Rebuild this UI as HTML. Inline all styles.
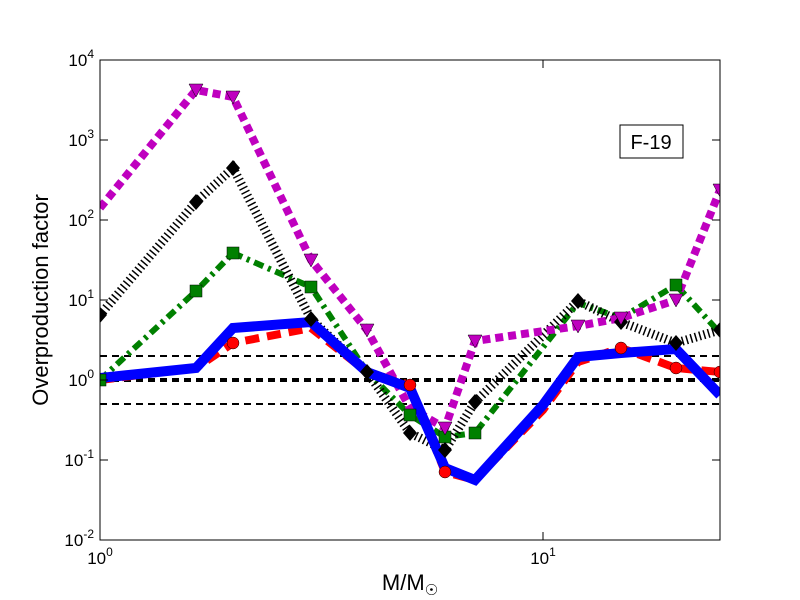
<!DOCTYPE html>
<html><head><meta charset="utf-8"><style>body{margin:0;background:#fff}svg{display:block}</style></head><body>
<svg width="800" height="600" xmlns="http://www.w3.org/2000/svg" font-family="Liberation Sans, DejaVu Sans, sans-serif">
<rect width="800" height="600" fill="#fff"/>
<defs><clipPath id="c"><rect x="100" y="60" width="620" height="480"/></clipPath></defs>
<g clip-path="url(#c)" fill="none">
<line x1="100" y1="356" x2="720" y2="356" stroke="#000" stroke-width="2" stroke-dasharray="7,5"/>
<line x1="100" y1="380" x2="720" y2="380" stroke="#000" stroke-width="4" stroke-dasharray="7,5"/>
<line x1="100" y1="404" x2="720" y2="404" stroke="#000" stroke-width="2" stroke-dasharray="7,5"/>
<polyline points="100,380 196,368 233,343 311,328 367,372 410,385 445,472 475,480 543,410 578,362 621,348 676,368 720,372" stroke="#f00" stroke-width="8" stroke-dasharray="14,8"/>
<polyline points="100,380 196,291 233,253 311,287 367,372 410,415 445,437 475,433 578,303 621,318 676,285 720,333" stroke="#008000" stroke-width="6" stroke-dasharray="10,5,3,5"/>
<polyline points="100,315 196,202 233,168 311,319 367,372 410,433 445,450 475,402 578,301 621,322 676,343 720,330" stroke="#000" stroke-width="9" stroke-dasharray="1.5,3"/>
<polyline points="100,208 196,90 233,97 311,260 367,330 410,408 445,428 475,341 578,326 621,318 676,300 720,190" stroke="#bf00bf" stroke-width="8" stroke-dasharray="8,5"/>
<polyline points="100,378 196,368 233,328 311,322 367,372 410,388 445,468 475,480 543,405 578,357 621,353 676,349 720,395" stroke="#00f" stroke-width="10"/>
<g fill="#f00" stroke="#000" stroke-width="0.5">
<circle cx="233" cy="343" r="6"/><circle cx="410" cy="385" r="6"/><circle cx="445" cy="472" r="6"/><circle cx="621" cy="348" r="6"/><circle cx="676" cy="368" r="6"/><circle cx="720" cy="372" r="6"/></g>
<g fill="#008000" stroke="#000" stroke-width="0.5">
<rect x="94" y="374" width="12" height="12"/><rect x="190" y="285" width="12" height="12"/><rect x="227" y="247" width="12" height="12"/><rect x="305" y="281" width="12" height="12"/><rect x="404" y="409" width="12" height="12"/><rect x="439" y="431" width="12" height="12"/><rect x="469" y="427" width="12" height="12"/><rect x="670" y="279" width="12" height="12"/></g>
<g fill="#000">
<polygon points="100,307 107,315 100,323 93,315"/><polygon points="196,194 203,202 196,210 189,202"/><polygon points="233,160 240,168 233,176 226,168"/><polygon points="311,311 318,319 311,327 304,319"/><polygon points="367,364 374,372 367,380 360,372"/><polygon points="410,425 417,433 410,441 403,433"/><polygon points="445,442 452,450 445,458 438,450"/><polygon points="475,394 482,402 475,410 468,402"/><polygon points="578,293 585,301 578,309 571,301"/><polygon points="621,314 628,322 621,330 614,322"/><polygon points="676,335 683,343 676,351 669,343"/><polygon points="720,322 727,330 720,338 713,330"/></g>
<g fill="#bf00bf" stroke="#000" stroke-width="0.5">
<polygon points="189,84 203,84 196,97"/><polygon points="226,91 240,91 233,104"/><polygon points="304,254 318,254 311,267"/><polygon points="360,324 374,324 367,337"/><polygon points="438,422 452,422 445,435"/><polygon points="468,335 482,335 475,348"/><polygon points="571,320 585,320 578,333"/><polygon points="614,312 628,312 621,325"/><polygon points="669,294 683,294 676,307"/><polygon points="713,184 727,184 720,197"/></g>
</g>
<rect x="100" y="60" width="620" height="480" fill="none" stroke="#000" stroke-width="1"/>
<g stroke="#000" stroke-width="1">
<line x1="100" y1="60" x2="108" y2="60"/><line x1="100" y1="140" x2="108" y2="140"/><line x1="100" y1="220" x2="108" y2="220"/><line x1="100" y1="300" x2="108" y2="300"/><line x1="100" y1="380" x2="108" y2="380"/><line x1="100" y1="460" x2="108" y2="460"/>
<line x1="712" y1="140" x2="720" y2="140"/><line x1="712" y1="220" x2="720" y2="220"/><line x1="712" y1="300" x2="720" y2="300"/><line x1="712" y1="380" x2="720" y2="380"/><line x1="712" y1="460" x2="720" y2="460"/>
<line x1="543" y1="540" x2="543" y2="532"/><line x1="543" y1="60" x2="543" y2="68"/>
</g>
<g font-size="17" text-anchor="end">
<text x="94" y="66">10<tspan font-size="12" dy="-8">4</tspan></text>
<text x="94" y="146">10<tspan font-size="12" dy="-8">3</tspan></text>
<text x="94" y="226">10<tspan font-size="12" dy="-8">2</tspan></text>
<text x="94" y="306">10<tspan font-size="12" dy="-8">1</tspan></text>
<text x="94" y="386">10<tspan font-size="12" dy="-8">0</tspan></text>
<text x="94" y="466">10<tspan font-size="12" dy="-8">-1</tspan></text>
<text x="94" y="546">10<tspan font-size="12" dy="-8">-2</tspan></text>
</g>
<g font-size="17" text-anchor="middle">
<text x="100" y="564">10<tspan font-size="12" dy="-8">0</tspan></text>
<text x="543" y="564">10<tspan font-size="12" dy="-8">1</tspan></text>
</g>
<text x="410" y="590" font-size="22" text-anchor="middle">M/M<tspan font-size="15" dy="5">☉</tspan></text>
<text transform="translate(48,300) rotate(-90)" font-size="22" text-anchor="middle">Overproduction factor</text>
<rect x="620" y="125" width="63" height="33" fill="#fff" stroke="#000"/>
<text x="651" y="149" font-size="20" text-anchor="middle">F-19</text>
</svg>
</body></html>
